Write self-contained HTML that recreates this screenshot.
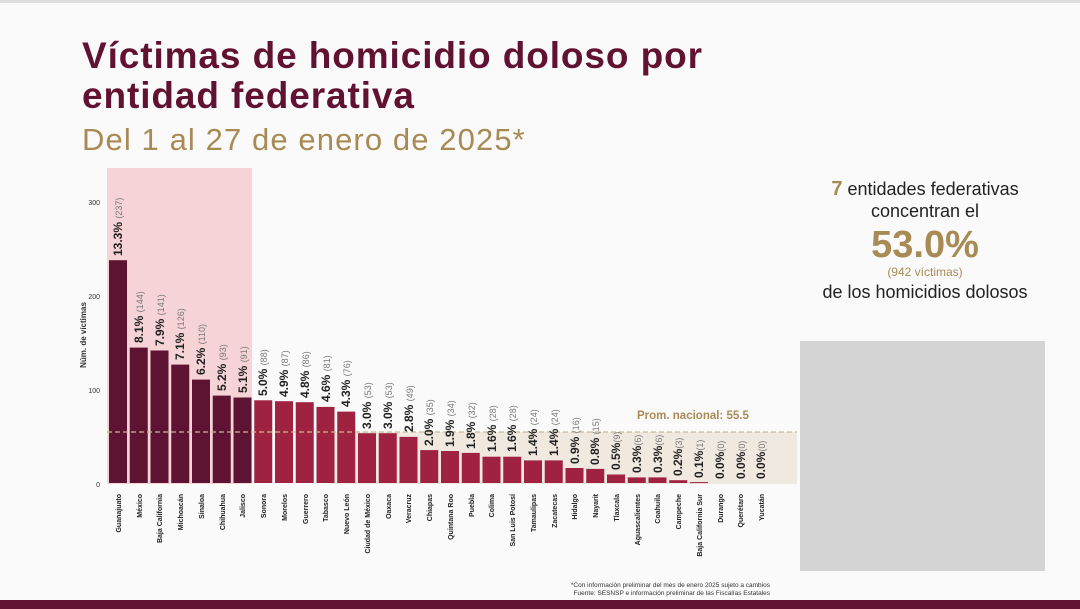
<!DOCTYPE html>
<html><head><meta charset="utf-8"><style>
html,body{margin:0;padding:0;}
body{width:1080px;height:609px;overflow:hidden;background:#fbfafa;font-family:"Liberation Sans",sans-serif;position:relative;}
.t{position:absolute;left:82px;color:#611232;font-weight:bold;font-size:37px;line-height:40px;top:36px;letter-spacing:0.9px}
.s{position:absolute;left:82px;top:122px;color:#a88a55;font-size:31px;letter-spacing:1.1px}
.r{position:absolute;left:790px;width:270px;text-align:center;color:#222;font-size:18px}
</style></head><body>
<div style="position:absolute;left:0;top:0;width:1080px;height:3px;background:#ddd"></div>
<div class="t">Víctimas de homicidio doloso por<br>entidad federativa</div>
<div class="s">Del 1 al 27 de enero de 2025*</div>
<div class="r" style="top:178px;line-height:22px"><b style="color:#a88a55;font-size:20px">7</b> entidades federativas<br>concentran el</div>
<div class="r" style="top:224px;font-size:38px;font-weight:bold;color:#a88a55">53.0%</div>
<div class="r" style="top:265px;font-size:12px;color:#a88a55">(942 víctimas)</div>
<div class="r" style="top:282px">de los homicidios dolosos</div>
<div style="position:absolute;left:800px;top:341px;width:245px;height:230px;background:#d4d4d4"></div>
<div style="position:absolute;left:0;top:600px;width:1080px;height:9px;background:#611232"></div>
<svg width="1080" height="609" style="position:absolute;left:0;top:0" font-family="Liberation Sans, sans-serif">
<rect x="107" y="168" width="145" height="316" fill="#f6d3d6"/>
<rect x="330" y="432" width="467" height="52" fill="#efe9df"/>
<g font-size="7" fill="#333" text-anchor="end">
<text x="100" y="205">300</text><text x="100" y="299">200</text><text x="100" y="393">100</text><text x="100" y="487">0</text>
</g>
<text transform="translate(86,335) rotate(-90)" text-anchor="middle" font-size="8" font-weight="bold" fill="#333">Núm. de víctimas</text>
<g fill="#5f1332">
<rect x="109" y="260.2" width="18" height="222.8"/><rect x="129.75" y="347.6" width="18" height="135.4"/><rect x="150.5" y="350.5" width="18" height="132.5"/><rect x="171.25" y="364.6" width="18" height="118.4"/><rect x="192" y="379.6" width="18" height="103.4"/><rect x="212.75" y="395.6" width="18" height="87.4"/><rect x="233.5" y="397.5" width="18" height="85.5"/>
</g>
<g fill="#9f2241">
<rect x="254.25" y="400.3" width="18" height="82.7"/><rect x="275" y="401.2" width="18" height="81.8"/><rect x="295.75" y="402.2" width="18" height="80.8"/><rect x="316.5" y="406.9" width="18" height="76.1"/><rect x="337.25" y="411.6" width="18" height="71.4"/><rect x="358" y="433.2" width="18" height="49.8"/><rect x="378.75" y="433.2" width="18" height="49.8"/><rect x="399.5" y="436.9" width="18" height="46.1"/><rect x="420.25" y="450.1" width="18" height="32.9"/><rect x="441" y="451" width="18" height="32"/><rect x="461.75" y="452.9" width="18" height="30.1"/><rect x="482.5" y="456.7" width="18" height="26.3"/><rect x="503.25" y="456.7" width="18" height="26.3"/><rect x="524" y="460.4" width="18" height="22.6"/><rect x="544.75" y="460.4" width="18" height="22.6"/><rect x="565.5" y="468" width="18" height="15"/><rect x="586.25" y="468.9" width="18" height="14.1"/><rect x="607" y="474.5" width="18" height="8.5"/><rect x="627.75" y="477.4" width="18" height="5.6"/><rect x="648.5" y="477.4" width="18" height="5.6"/><rect x="669.25" y="480.2" width="18" height="2.8"/><rect x="690" y="482.1" width="18" height="1"/>
</g>
<line x1="107" y1="432" x2="797" y2="432" stroke="#c9b99a" stroke-width="1.2" stroke-dasharray="5,3"/>
<text x="637" y="419" font-size="11.5" font-weight="bold" fill="#a88a55">Prom. nacional: 55.5</text>
<g font-size="12" font-weight="bold" fill="#222">
<text transform="translate(122,256) rotate(-90)">13.3% <tspan font-weight="normal" font-size="9" fill="#777">(237)</tspan></text>
<text transform="translate(143,343) rotate(-90)">8.1% <tspan font-weight="normal" font-size="9" fill="#777">(144)</tspan></text>
<text transform="translate(164,346) rotate(-90)">7.9% <tspan font-weight="normal" font-size="9" fill="#777">(141)</tspan></text>
<text transform="translate(184,360) rotate(-90)">7.1% <tspan font-weight="normal" font-size="9" fill="#777">(126)</tspan></text>
<text transform="translate(205,375) rotate(-90)">6.2% <tspan font-weight="normal" font-size="9" fill="#777">(110)</tspan></text>
<text transform="translate(226,391) rotate(-90)">5.2% <tspan font-weight="normal" font-size="9" fill="#777">(93)</tspan></text>
<text transform="translate(247,393) rotate(-90)">5.1% <tspan font-weight="normal" font-size="9" fill="#777">(91)</tspan></text>
<text transform="translate(267,396) rotate(-90)">5.0% <tspan font-weight="normal" font-size="9" fill="#777">(88)</tspan></text>
<text transform="translate(288,397) rotate(-90)">4.9% <tspan font-weight="normal" font-size="9" fill="#777">(87)</tspan></text>
<text transform="translate(309,398) rotate(-90)">4.8% <tspan font-weight="normal" font-size="9" fill="#777">(86)</tspan></text>
<text transform="translate(330,402) rotate(-90)">4.6% <tspan font-weight="normal" font-size="9" fill="#777">(81)</tspan></text>
<text transform="translate(350,407) rotate(-90)">4.3% <tspan font-weight="normal" font-size="9" fill="#777">(76)</tspan></text>
<text transform="translate(371,429) rotate(-90)">3.0% <tspan font-weight="normal" font-size="9" fill="#777">(53)</tspan></text>
<text transform="translate(392,429) rotate(-90)">3.0% <tspan font-weight="normal" font-size="9" fill="#777">(53)</tspan></text>
<text transform="translate(413,432) rotate(-90)">2.8% <tspan font-weight="normal" font-size="9" fill="#777">(49)</tspan></text>
<text transform="translate(433,446) rotate(-90)">2.0% <tspan font-weight="normal" font-size="9" fill="#777">(35)</tspan></text>
<text transform="translate(454,447) rotate(-90)">1.9% <tspan font-weight="normal" font-size="9" fill="#777">(34)</tspan></text>
<text transform="translate(475,449) rotate(-90)">1.8% <tspan font-weight="normal" font-size="9" fill="#777">(32)</tspan></text>
<text transform="translate(496,452) rotate(-90)">1.6% <tspan font-weight="normal" font-size="9" fill="#777">(28)</tspan></text>
<text transform="translate(516,452) rotate(-90)">1.6% <tspan font-weight="normal" font-size="9" fill="#777">(28)</tspan></text>
<text transform="translate(537,456) rotate(-90)">1.4% <tspan font-weight="normal" font-size="9" fill="#777">(24)</tspan></text>
<text transform="translate(558,456) rotate(-90)">1.4% <tspan font-weight="normal" font-size="9" fill="#777">(24)</tspan></text>
<text transform="translate(579,464) rotate(-90)">0.9% <tspan font-weight="normal" font-size="9" fill="#777">(16)</tspan></text>
<text transform="translate(599,465) rotate(-90)">0.8% <tspan font-weight="normal" font-size="9" fill="#777">(15)</tspan></text>
<text transform="translate(620,470) rotate(-90)">0.5%<tspan font-weight="normal" font-size="9" fill="#777">(9)</tspan></text>
<text transform="translate(641,473) rotate(-90)">0.3%<tspan font-weight="normal" font-size="9" fill="#777">(6)</tspan></text>
<text transform="translate(662,473) rotate(-90)">0.3%<tspan font-weight="normal" font-size="9" fill="#777">(6)</tspan></text>
<text transform="translate(682,476) rotate(-90)">0.2%<tspan font-weight="normal" font-size="9" fill="#777">(3)</tspan></text>
<text transform="translate(703,478) rotate(-90)">0.1%<tspan font-weight="normal" font-size="9" fill="#777">(1)</tspan></text>
<text transform="translate(724,479) rotate(-90)">0.0%<tspan font-weight="normal" font-size="9" fill="#777">(0)</tspan></text>
<text transform="translate(745,479) rotate(-90)">0.0%<tspan font-weight="normal" font-size="9" fill="#777">(0)</tspan></text>
<text transform="translate(765,479) rotate(-90)">0.0%<tspan font-weight="normal" font-size="9" fill="#777">(0)</tspan></text>
</g>
<g font-size="7" font-weight="bold" fill="#222" text-anchor="end">
<text transform="translate(121,494) rotate(-90)">Guanajuato</text>
<text transform="translate(142,494) rotate(-90)">México</text>
<text transform="translate(162,494) rotate(-90)">Baja California</text>
<text transform="translate(183,494) rotate(-90)">Michoacán</text>
<text transform="translate(204,494) rotate(-90)">Sinaloa</text>
<text transform="translate(225,494) rotate(-90)">Chihuahua</text>
<text transform="translate(245,494) rotate(-90)">Jalisco</text>
<text transform="translate(266,494) rotate(-90)">Sonora</text>
<text transform="translate(287,494) rotate(-90)">Morelos</text>
<text transform="translate(308,494) rotate(-90)">Guerrero</text>
<text transform="translate(328,494) rotate(-90)">Tabasco</text>
<text transform="translate(349,494) rotate(-90)">Nuevo León</text>
<text transform="translate(370,494) rotate(-90)">Ciudad de México</text>
<text transform="translate(391,494) rotate(-90)">Oaxaca</text>
<text transform="translate(411,494) rotate(-90)">Veracruz</text>
<text transform="translate(432,494) rotate(-90)">Chiapas</text>
<text transform="translate(453,494) rotate(-90)">Quintana Roo</text>
<text transform="translate(474,494) rotate(-90)">Puebla</text>
<text transform="translate(494,494) rotate(-90)">Colima</text>
<text transform="translate(515,494) rotate(-90)">San Luis Potosí</text>
<text transform="translate(536,494) rotate(-90)">Tamaulipas</text>
<text transform="translate(557,494) rotate(-90)">Zacatecas</text>
<text transform="translate(577,494) rotate(-90)">Hidalgo</text>
<text transform="translate(598,494) rotate(-90)">Nayarit</text>
<text transform="translate(619,494) rotate(-90)">Tlaxcala</text>
<text transform="translate(640,494) rotate(-90)">Aguascalientes</text>
<text transform="translate(660,494) rotate(-90)">Coahuila</text>
<text transform="translate(681,494) rotate(-90)">Campeche</text>
<text transform="translate(702,494) rotate(-90)">Baja California Sur</text>
<text transform="translate(723,494) rotate(-90)">Durango</text>
<text transform="translate(743,494) rotate(-90)">Querétaro</text>
<text transform="translate(764,494) rotate(-90)">Yucatán</text>
</g>
<g font-size="6.5" fill="#333" text-anchor="end">
<text x="770" y="587">*Con información preliminar del mes de enero 2025 sujeto a cambios</text>
<text x="770" y="595">Fuente: SESNSP e información preliminar de las Fiscalías Estatales</text>
</g>
</svg>
</body></html>
